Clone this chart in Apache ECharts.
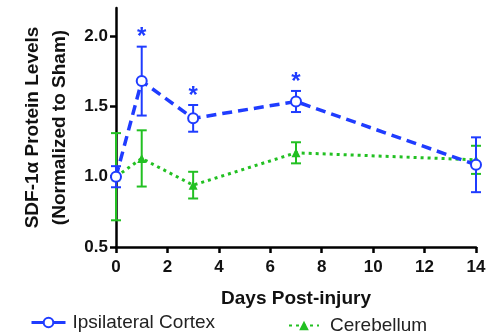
<!DOCTYPE html>
<html>
<head>
<meta charset="utf-8">
<script src="https://cdn.jsdelivr.net/npm/echarts@6/dist/echarts.min.js"></script>
<style>
html,body{margin:0;padding:0;background:#fff;}
#chart{width:489px;height:333px;}
</style>
</head>
<body>
<div id="chart"></div>
<script>
var days = [0, 1, 3, 7, 14];
var cortexMean = [1.00, 1.68, 1.415, 1.535, 1.085];
var cortexErr = [0.075, 0.245, 0.095, 0.075, 0.195];
var cerebMean = [1.00, 1.13, 0.94, 1.17, 1.12];
var cerebErr = [0.31, 0.20, 0.095, 0.075, 0.10];
var starDays = [1, 3, 7];
var xTicks = [0, 2, 4, 6, 8, 10, 12, 14];
var yTicks = [0.5, 1.0, 1.5, 2.0];

var blue = '#1f3cff';
var green = '#22c022';

function pairs(mean) {
    return days.map(function (d, i) { return [d, mean[i]]; });
}
function errData(mean, err) {
    return days.map(function (d, i) { return [d, mean[i] - err[i], mean[i] + err[i]]; });
}
function errRender(color) {
    return function (params, api) {
        var lo = api.coord([api.value(0), api.value(1)]);
        var hi = api.coord([api.value(0), api.value(2)]);
        var w = 5;
        var st = { stroke: color, lineWidth: 2 };
        return {
            type: 'group',
            children: [
                { type: 'line', shape: { x1: lo[0], y1: lo[1], x2: hi[0], y2: hi[1] }, style: st },
                { type: 'line', shape: { x1: lo[0] - w, y1: lo[1], x2: lo[0] + w, y2: lo[1] }, style: st },
                { type: 'line', shape: { x1: hi[0] - w, y1: hi[1], x2: hi[0] + w, y2: hi[1] }, style: st }
            ]
        };
    };
}
var starData = starDays.map(function (d) {
    var i = days.indexOf(d);
    return [d, cortexMean[i] + cortexErr[i]];
});

var myChart = echarts.init(document.getElementById('chart'));
var option = {
    animation: false,
    grid: { left: 116, right: 13, top: 8, bottom: 86 },
    legend: [{
        data: ['Ipsilateral Cortex'],
        left: 25, top: 308,
        itemWidth: 34, itemHeight: 12,
        lineStyle: { type: 'solid', width: 3 },
        textStyle: { fontFamily: 'Liberation Sans', fontSize: 19, color: '#222', padding: [0, 0, 0, 2] }
    }, {
        data: ['Cerebellum'],
        left: 283, top: 311,
        itemWidth: 30, itemHeight: 12,
        textStyle: { fontFamily: 'Liberation Sans', fontSize: 19, color: '#222', padding: [0, 0, 0, 6] }
    }],
    xAxis: {
        type: 'value', min: 0, max: 14, interval: 2,
        name: 'Days Post-injury', nameLocation: 'middle', nameGap: 42,
        nameTextStyle: { fontFamily: 'Liberation Sans', fontWeight: 'bold', fontSize: 19, color: '#111' },
        axisLine: { show: true, onZero: false, lineStyle: { color: '#000', width: 2.5 } },
        axisTick: { show: true, length: 6, lineStyle: { color: '#000', width: 2.5 } },
        axisLabel: { fontFamily: 'Liberation Sans', fontWeight: 'bold', fontSize: 17, color: '#111', margin: 12 },
        splitLine: { show: false }
    },
    yAxis: {
        type: 'value', min: 0.5, max: 2.2,
        name: 'SDF-1\u03b1 Protein Levels\n(Normalized to Sham)', nameLocation: 'middle', nameGap: 42,
        nameRotate: 90,
        nameTextStyle: { fontFamily: 'Liberation Sans', fontWeight: 'bold', fontSize: 19, color: '#111', lineHeight: 27 },
        axisLine: { show: true, onZero: false, lineStyle: { color: '#000', width: 2.5 } },
        axisTick: { show: true, length: 6, customValues: yTicks, lineStyle: { color: '#000', width: 2.5 } },
        axisLabel: {
            customValues: yTicks, fontFamily: 'Liberation Sans', fontWeight: 'bold', fontSize: 17, color: '#111', margin: 8,
            formatter: function (v) { return v.toFixed(1); }
        },
        splitLine: { show: false }
    },
    series: [{
        name: 'cerebErr', type: 'custom', renderItem: errRender(green),
        data: errData(cerebMean, cerebErr), z: 2, silent: true
    }, {
        name: 'Cerebellum', type: 'line', data: pairs(cerebMean),
        symbol: 'triangle', symbolSize: 9,
        itemStyle: { color: green },
        lineStyle: { color: green, width: 3, type: [3, 4] },
        z: 3
    }, {
        name: 'cortexErr', type: 'custom', renderItem: errRender(blue),
        data: errData(cortexMean, cortexErr), z: 4, silent: true
    }, {
        name: 'Ipsilateral Cortex', type: 'line', data: pairs(cortexMean),
        symbol: 'circle', symbolSize: 10,
        itemStyle: { color: '#fff', borderColor: blue, borderWidth: 2 },
        lineStyle: { color: blue, width: 3.5, type: [10, 6] },
        z: 5
    }, {
        name: 'stars', type: 'custom', silent: true, z: 6,
        data: starData,
        renderItem: function (params, api) {
            var p = api.coord([api.value(0), api.value(1)]);
            return {
                type: 'text',
                style: {
                    x: p[0], y: p[1] + 3, text: '*', fill: blue,
                    font: 'bold 24px "Liberation Sans"', align: 'center', verticalAlign: 'bottom'
                }
            };
        }
    }]
};
myChart.setOption(option);
</script>
</body>
</html>
